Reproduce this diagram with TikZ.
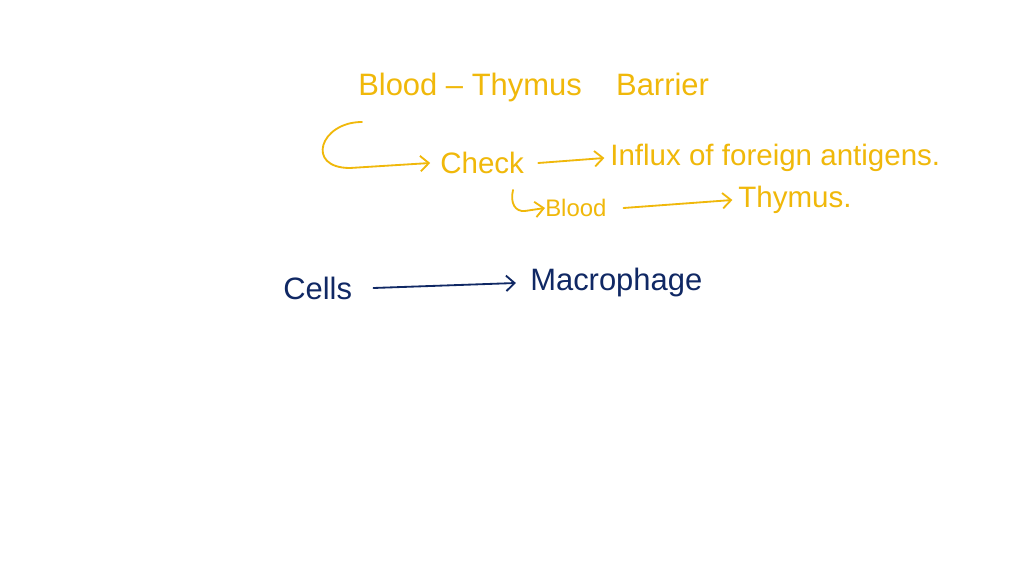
\documentclass[tikz,border=0pt]{standalone}
\usepackage{fontspec}
\setmainfont{Liberation Sans}
\usetikzlibrary{arrows.meta}
\definecolor{ink}{RGB}{240,184,10}
\definecolor{navy}{RGB}{16,40,100}
\begin{document}
\begin{tikzpicture}[x=0.025cm,y=-0.025cm,
  ytxt/.style={text=ink,font=\fontsize{21}{24}\selectfont,inner sep=0pt,anchor=west},
  ntxt/.style={text=navy,font=\fontsize{22}{26}\selectfont,inner sep=0pt,anchor=west},
  yarr/.style={draw=ink,line width=1.3pt,line cap=round,line join=round,-{Straight Barb[length=6pt,width=11pt]}},
  narr/.style={draw=navy,line width=1.3pt,line cap=round,-{Straight Barb[length=6pt,width=11pt]}}]
\useasboundingbox[fill=white] (0,0) rectangle (1024,576);
\node[ytxt,font=\fontsize{22}{26}\selectfont] (title) at (358,88) {Blood -- Thymus \ \ \ Barrier};
\coordinate (h1) at (362,122);
\node[ytxt] (check) at (440,163) {Check};
\node[ytxt] (influx) at (610,158) {Influx of foreign antigens.};
\coordinate (h2) at (513,190);
\node[ytxt,font=\fontsize{17}{20}\selectfont] (blood) at (545,208) {Blood};
\node[ytxt] (thymus) at (738,200) {Thymus.};
\node[ntxt] (cells) at (283,288) {Cells};
\node[ntxt] (macro) at (530,283) {Macrophage};
\draw[yarr] (h1) .. controls (320,122) and (305,168) .. (350,168) -- ([xshift=-7pt]check.west);
\draw[yarr] ([xshift=10pt]check.east) -- ([xshift=-4pt]influx.west);
\draw[yarr] (h2) .. controls (510,203) and (515,212) .. (525,211) -- (blood.west);
\draw[yarr] ([xshift=12pt]blood.east) -- ([xshift=-4pt]thymus.west);
\draw[narr] ([xshift=15pt]cells.east) -- ([xshift=-10pt]macro.west);
\end{tikzpicture}
\end{document}
